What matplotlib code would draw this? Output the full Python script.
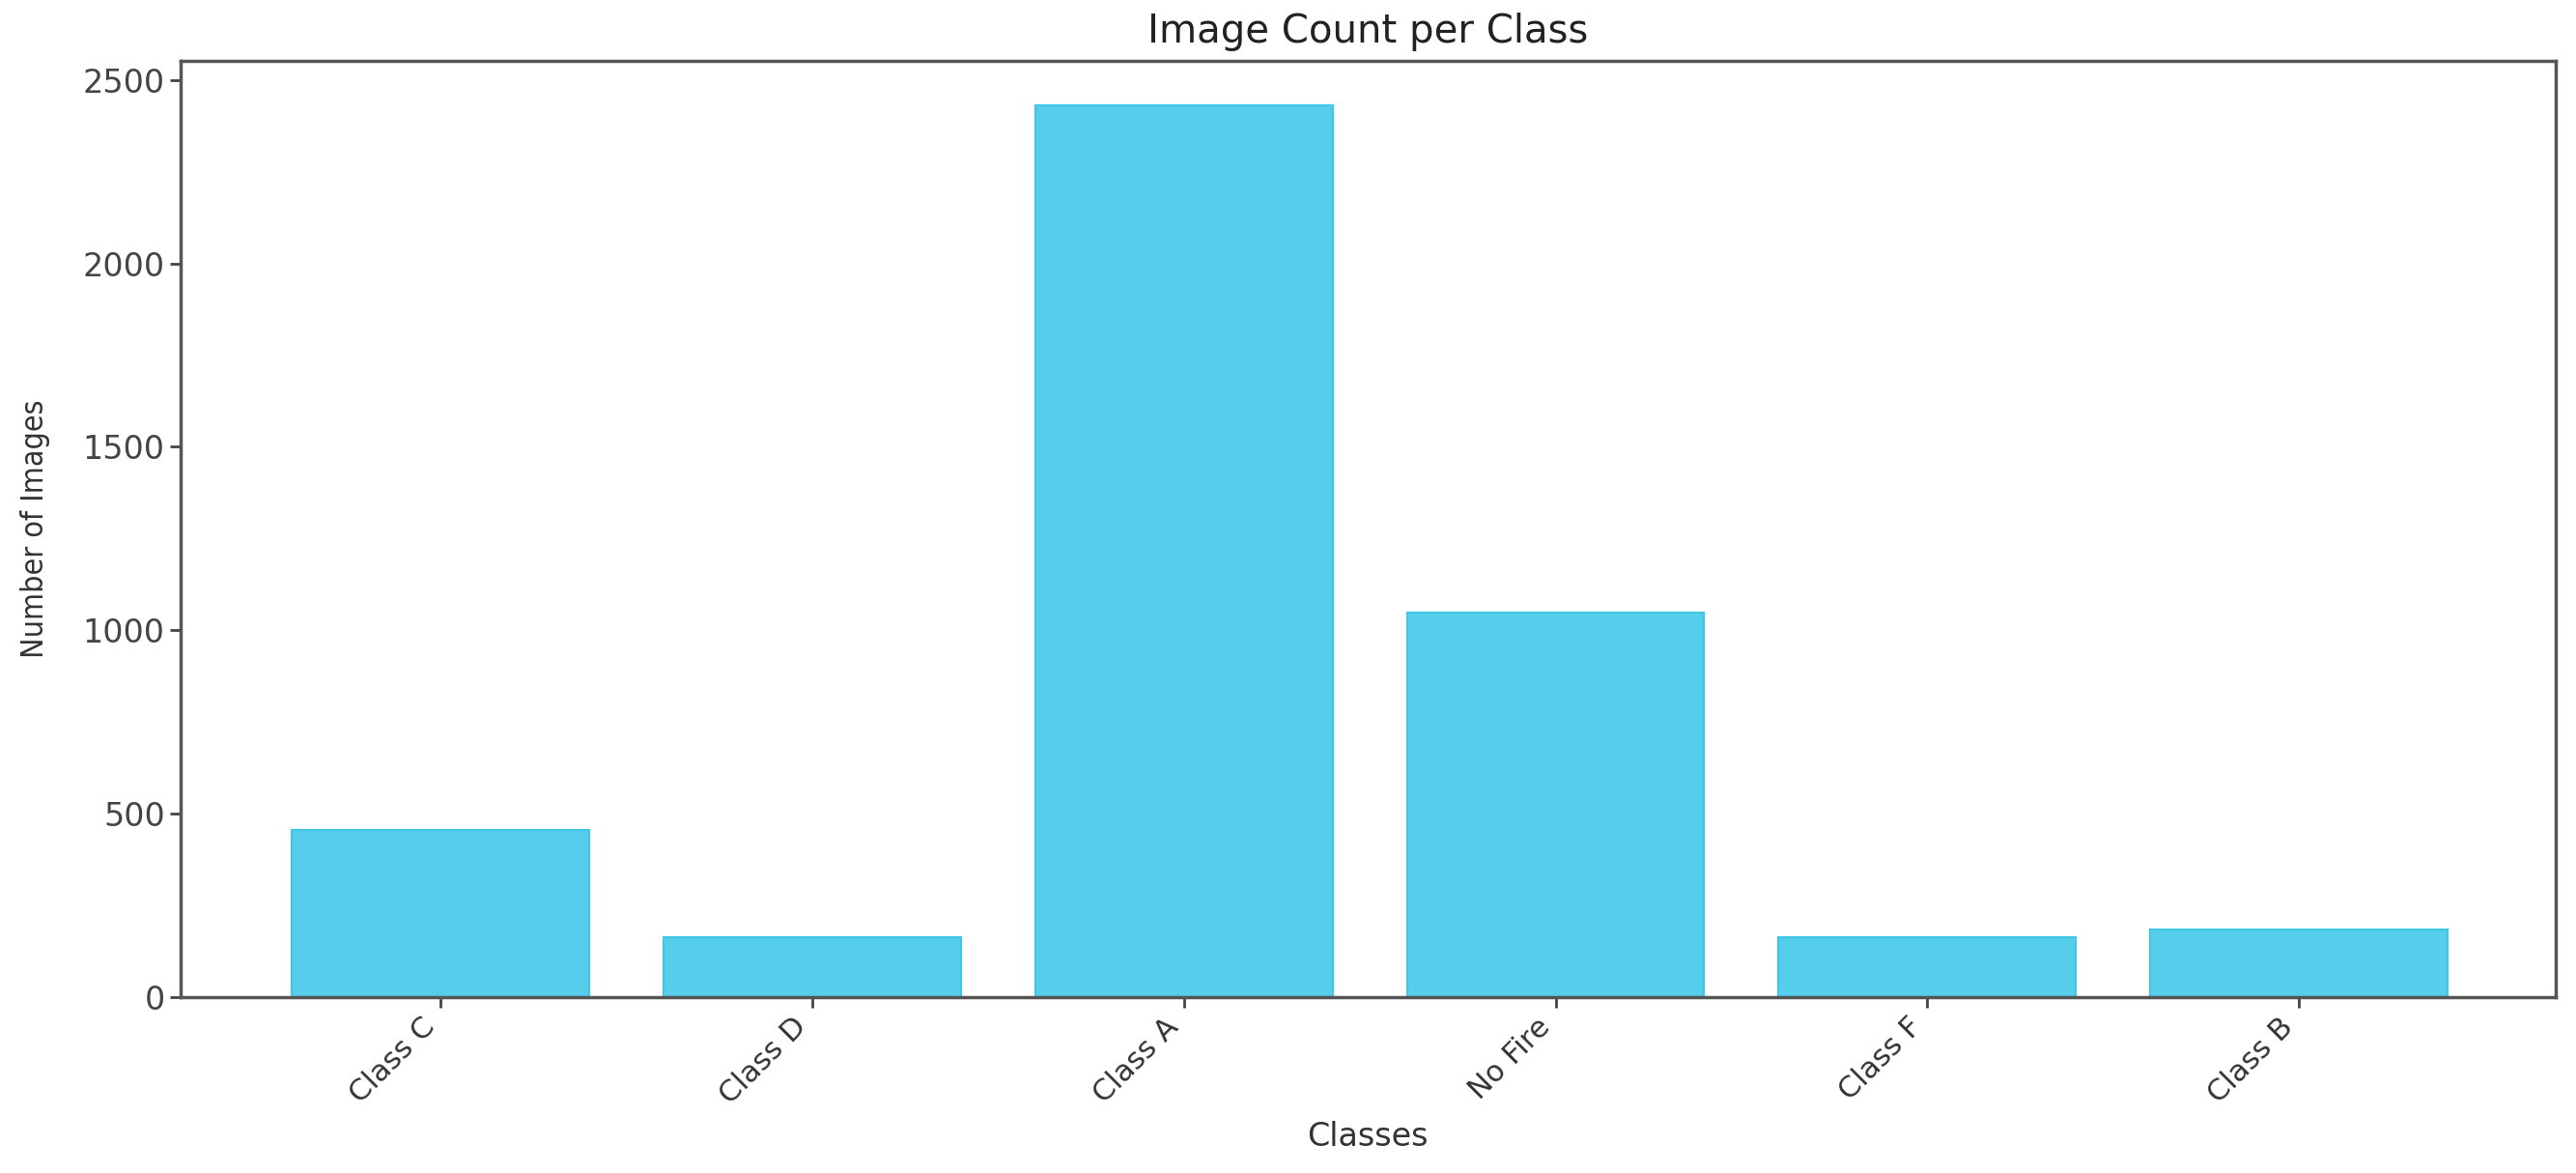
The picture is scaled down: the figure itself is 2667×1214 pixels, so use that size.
import matplotlib
matplotlib.use('Agg')
import matplotlib.pyplot as plt

# Image count per class
classes = ['Class C', 'Class D', 'Class A', 'No Fire', 'Class F', 'Class B']
counts = [455, 162, 2430, 1048, 162, 184]

barColor = '#56cdeb'

fig = plt.figure(figsize=(26.67, 12.14), dpi=100)
ax = fig.add_axes([0.070, 0.150, 0.922, 0.798])

ax.bar(classes, counts, width=0.8, color=barColor, edgecolor='#3fc5e6', linewidth=1.5)
ax.set_xlim(-0.7, 5.69)

ax.set_title('Image Count per Class', fontsize=29, color='#222222', pad=14)
ax.set_xlabel('Classes', fontsize=24, color='#333333', labelpad=8)
ax.set_ylabel('Number of Images', fontsize=23, color='#333333', labelpad=24,
              fontstretch='condensed')
plt.xticks(rotation=45, ha='right')
ax.tick_params(axis='y', labelsize=24, colors='#444444', length=8, width=2)
ax.tick_params(axis='x', labelsize=22, colors='#444444', length=8, width=2)
ax.tick_params(axis='x', labelcolor='#333333')
for s in ax.spines.values():
    s.set_linewidth(2.5)
    s.set_color('#555555')

plt.savefig('out.png', dpi=100)
